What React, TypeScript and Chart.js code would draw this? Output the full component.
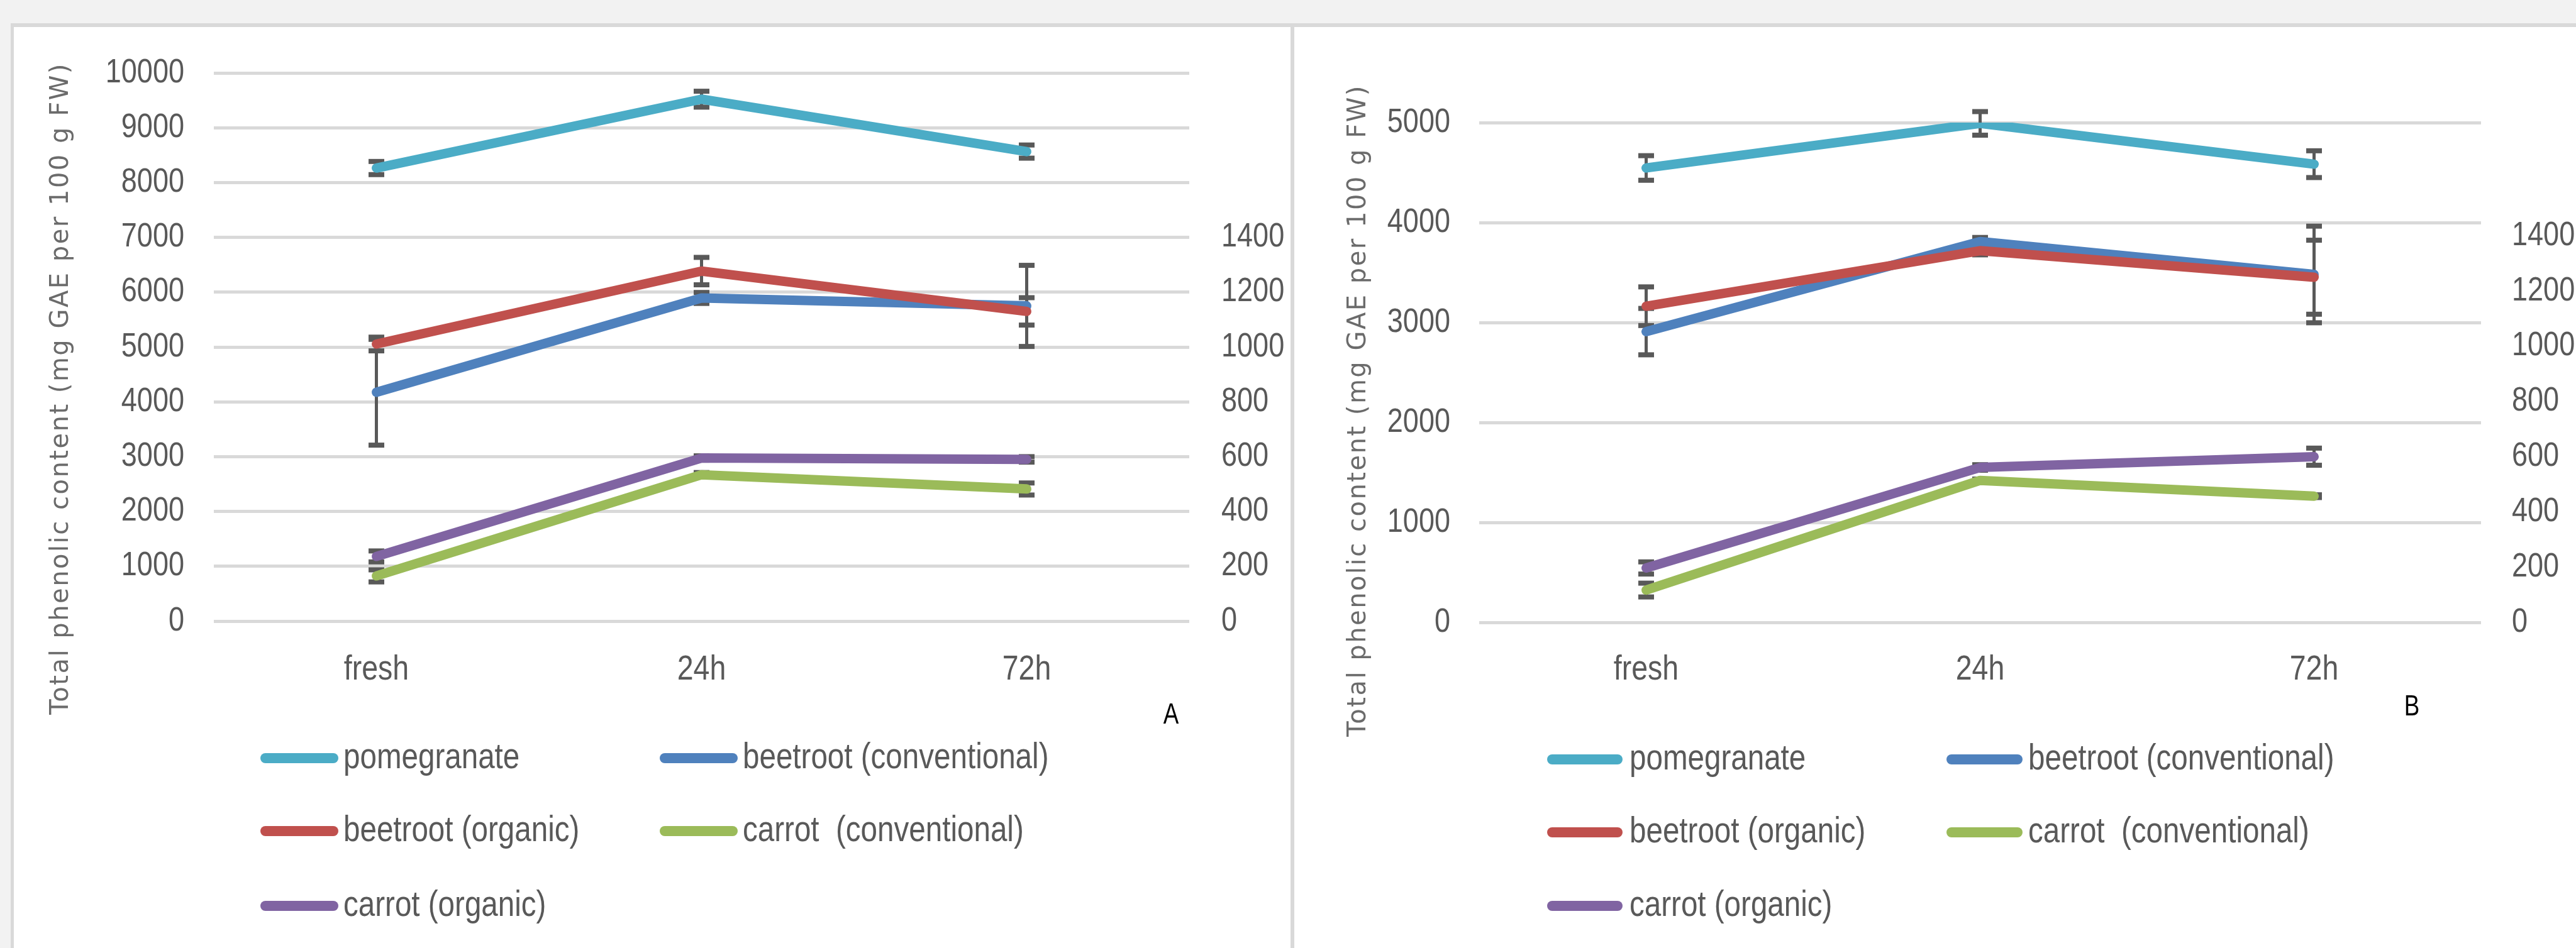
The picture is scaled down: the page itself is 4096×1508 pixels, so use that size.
import React, { useEffect, useRef } from 'react';
import { Chart, registerables } from 'chart.js';

Chart.register(...registerables);

// ---------- data ----------
const categories = ['fresh', '24h', '72h'];
const seriesNames = [
  'pomegranate',
  'beetroot (conventional)',
  'beetroot (organic)',
  'carrot  (conventional)',
  'carrot (organic)',
];
const seriesColors = ['#4BACC6', '#4F81BD', '#C0504D', '#9BBB59', '#8064A2'];
const seriesAxis = ['y', 'y1', 'y1', 'y1', 'y1'];

// Panel A
const pomegranateA = [8265, 9521, 8565];
const pomegranateErrA = [120, 145, 120];
const beetConvA = [835, 1179, 1150];
const beetConvErrA = [193, 20, 148];
const beetOrgA = [1011, 1277, 1130];
const beetOrgErrA = [25, 50, 50];
const carrotConvA = [165, 534, 482];
const carrotConvErrA = [22, 8, 22];
const carrotOrgA = [236, 595, 590];
const carrotOrgErrA = [20, 8, 10];

// Panel B
const pomegranateB = [4546, 4992, 4584];
const pomegranateErrB = [123, 118, 134];
const beetConvB = [1053, 1379, 1260];
const beetConvErrB = [84, 15, 175];
const beetOrgB = [1145, 1346, 1250];
const beetOrgErrB = [70, 15, 134];
const carrotConvB = [117, 514, 457];
const carrotConvErrB = [25, 5, 5];
const carrotOrgB = [197, 561, 600];
const carrotOrgErrB = [22, 10, 31];

// axes / tick labels
const leftTicksA = [0, 1000, 2000, 3000, 4000, 5000, 6000, 7000, 8000, 9000, 10000];
const leftTicksB = [0, 1000, 2000, 3000, 4000, 5000];
const rightTicks = [0, 200, 400, 600, 800, 1000, 1200, 1400];
const rightMaxA = 2000;
const rightMaxB = 1810;

const yTitle = 'Total phenolic content (mg GAE per 100 g FW)';

// ---------- styling ----------
const W = 4096;
const H = 1508;
const FONT = "'Liberation Sans', Arial, sans-serif";
const TEXT = '#595959';

const layoutA = {
  area: { left: 340, right: 1891, top: 116, bottom: 988 },
  leftPad: 47,
  rightPad: 51,
  xLabelY: 1066,
  title: { x: 98, y: 618 },
  legend: { cols: [[414, 538, 546], [1049, 1173, 1181]], rows: [1206, 1322, 1441] },
  label: { text: 'A', x: 1862, y: 1138 },
};
const layoutB = {
  area: { left: 2352, right: 3945, top: 195, bottom: 990 },
  leftPad: 46,
  rightPad: 49,
  xLabelY: 1066,
  title: { x: 2161, y: 653 },
  legend: { cols: [[2460, 2580, 2591], [3095, 3216, 3225]], rows: [1208, 1324, 1441] },
  label: { text: 'B', x: 3835, y: 1125 },
};

function squeezedText(ctx: any, text: string, x: number, y: number, align: string, size: number, sx: number, color: string) {
  ctx.save();
  ctx.translate(x, y);
  ctx.scale(sx, 1);
  ctx.font = `${size}px ${FONT}`;
  ctx.fillStyle = color;
  ctx.textAlign = align;
  ctx.textBaseline = 'middle';
  ctx.fillText(text, 0, 0);
  ctx.restore();
}

const errorBarPlugin = {
  id: 'errorBars',
  beforeDatasetsDraw(chart: any) {
    const ctx = chart.ctx;
    chart.data.datasets.forEach((ds: any, i: number) => {
      const meta = chart.getDatasetMeta(i);
      const ys = chart.scales[ds.yAxisID];
      meta.data.forEach((pt: any, j: number) => {
        const v = ds.data[j];
        const e = ds.errors[j];
        const x = pt.x;
        const yT = ys.getPixelForValue(v + e);
        const yB = ys.getPixelForValue(v - e);
        ctx.save();
        ctx.strokeStyle = TEXT;
        ctx.fillStyle = TEXT;
        ctx.lineWidth = 5;
        ctx.beginPath();
        ctx.moveTo(x, yT);
        ctx.lineTo(x, yB);
        ctx.stroke();
        ctx.fillRect(x - 12.5, yT - 4, 25, 8);
        ctx.fillRect(x - 12.5, yB - 4, 25, 8);
        ctx.restore();
      });
    });
  },
};

const decorPlugin = {
  id: 'decor',
  afterDraw(chart: any, _args: any, opts: any) {
    const ctx = chart.ctx;
    const L = opts.layout;
    const area = chart.chartArea;
    // tick labels, from the scales
    const y = chart.scales.y;
    y.ticks.forEach((t: any) => {
      squeezedText(ctx, String(t.value), area.left - L.leftPad, y.getPixelForValue(t.value), 'right', 53, 0.85, TEXT);
    });
    const y1 = chart.scales.y1;
    y1.ticks.forEach((t: any) => {
      squeezedText(ctx, String(t.value), area.right + L.rightPad, y1.getPixelForValue(t.value), 'left', 53, 0.85, TEXT);
    });
    const x = chart.scales.x;
    chart.data.labels.forEach((lab: string, i: number) => {
      squeezedText(ctx, lab, x.getPixelForValue(i), L.xLabelY, 'center', 56, 0.83, TEXT);
    });
    // axis title
    ctx.save();
    ctx.translate(L.title.x, L.title.y);
    ctx.rotate(-Math.PI / 2);
    ctx.font = "40px 'DejaVu Sans', sans-serif";
    try { (ctx as any).letterSpacing = '2.5px'; } catch (e) {}
    ctx.fillStyle = '#6b6b6b';
    ctx.textAlign = 'center';
    ctx.textBaseline = 'middle';
    ctx.fillText(yTitle, 0, 0);
    ctx.restore();
    // legend
    chart.data.datasets.forEach((ds: any, i: number) => {
      const col = L.legend.cols[i % 2];
      const yy = L.legend.rows[Math.floor(i / 2)];
      ctx.save();
      ctx.strokeStyle = ds.borderColor;
      ctx.lineWidth = 16;
      ctx.lineCap = 'round';
      ctx.beginPath();
      ctx.moveTo(col[0] + 8, yy);
      ctx.lineTo(col[1] - 8, yy);
      ctx.stroke();
      ctx.restore();
      squeezedText(ctx, ds.label, col[2], yy, 'left', 58, 0.82, TEXT);
    });
    // panel letter
    squeezedText(ctx, L.label.text, L.label.x, L.label.y, 'center', 46, 0.8, '#000000');
  },
};

function buildConfig(values: number[][], errors: number[][], leftTicks: number[], rightMax: number, L: any) {
  const datasets = values.map((d, i) => ({
    label: seriesNames[i],
    data: d,
    errors: errors[i],
    yAxisID: seriesAxis[i],
    borderColor: seriesColors[i],
    backgroundColor: seriesColors[i],
    borderWidth: 15,
    borderCapStyle: 'round',
    borderJoinStyle: 'round',
    pointRadius: 0,
    tension: 0,
    fill: false,
    order: values.length - i,
  }));
  return {
    type: 'line',
    data: { labels: categories, datasets },
    plugins: [errorBarPlugin, decorPlugin],
    options: {
      responsive: false,
      animation: false,
      devicePixelRatio: 1,
      events: [],
      layout: { padding: { left: 0, right: 0, top: L.area.top, bottom: 0 } },
      plugins: {
        legend: { display: false },
        tooltip: { enabled: false },
        decor: { layout: L },
      },
      scales: {
        x: {
          type: 'category',
          offset: true,
          grid: { display: false },
          border: { display: false },
          ticks: { display: false },
          afterFit: (s: any) => { s.height = H - L.area.bottom; },
        },
        y: {
          position: 'left',
          min: leftTicks[0],
          max: leftTicks[leftTicks.length - 1],
          grid: { color: '#d9d9d9', lineWidth: 5, drawTicks: false },
          border: { display: false },
          ticks: { display: false },
          afterBuildTicks: (s: any) => { s.ticks = leftTicks.map((v) => ({ value: v })); },
          afterFit: (s: any) => { s.width = L.area.left; },
        },
        y1: {
          position: 'right',
          min: 0,
          max: rightMax,
          grid: { display: false },
          border: { display: false },
          ticks: { display: false },
          afterBuildTicks: (s: any) => { s.ticks = rightTicks.map((v) => ({ value: v })); },
          afterFit: (s: any) => { s.width = W - L.area.right; },
        },
      },
    },
  };
}

export default function App() {
  const refA = useRef<HTMLCanvasElement>(null);
  const refB = useRef<HTMLCanvasElement>(null);

  useEffect(() => {
    const cA = new Chart(refA.current as any, buildConfig(
      [pomegranateA, beetConvA, beetOrgA, carrotConvA, carrotOrgA],
      [pomegranateErrA, beetConvErrA, beetOrgErrA, carrotConvErrA, carrotOrgErrA],
      leftTicksA, rightMaxA, layoutA) as any);
    const cB = new Chart(refB.current as any, buildConfig(
      [pomegranateB, beetConvB, beetOrgB, carrotConvB, carrotOrgB],
      [pomegranateErrB, beetConvErrB, beetOrgErrB, carrotConvErrB, carrotOrgErrB],
      leftTicksB, rightMaxB, layoutB) as any);
    return () => { cA.destroy(); cB.destroy(); };
  }, []);

  const abs = (o: any) => ({ position: 'absolute' as const, ...o });
  return (
    <div style={{ position: 'fixed', left: 0, top: 0, width: W, height: H, overflow: 'hidden', background: '#f2f2f2' }}>
      <div style={abs({ left: 17, top: 37, width: W, height: H, background: '#ffffff', borderTop: '6px solid #d9d9d9', borderLeft: '5px solid #d9d9d9', boxSizing: 'border-box' })} />
      <div style={abs({ left: 2052, top: 37, width: 6, height: H, background: '#d9d9d9' })} />
      <canvas ref={refA} width={W} height={H} style={abs({ left: 0, top: 0, width: W, height: H })} />
      <canvas ref={refB} width={W} height={H} style={abs({ left: 0, top: 0, width: W, height: H })} />
    </div>
  );
}
